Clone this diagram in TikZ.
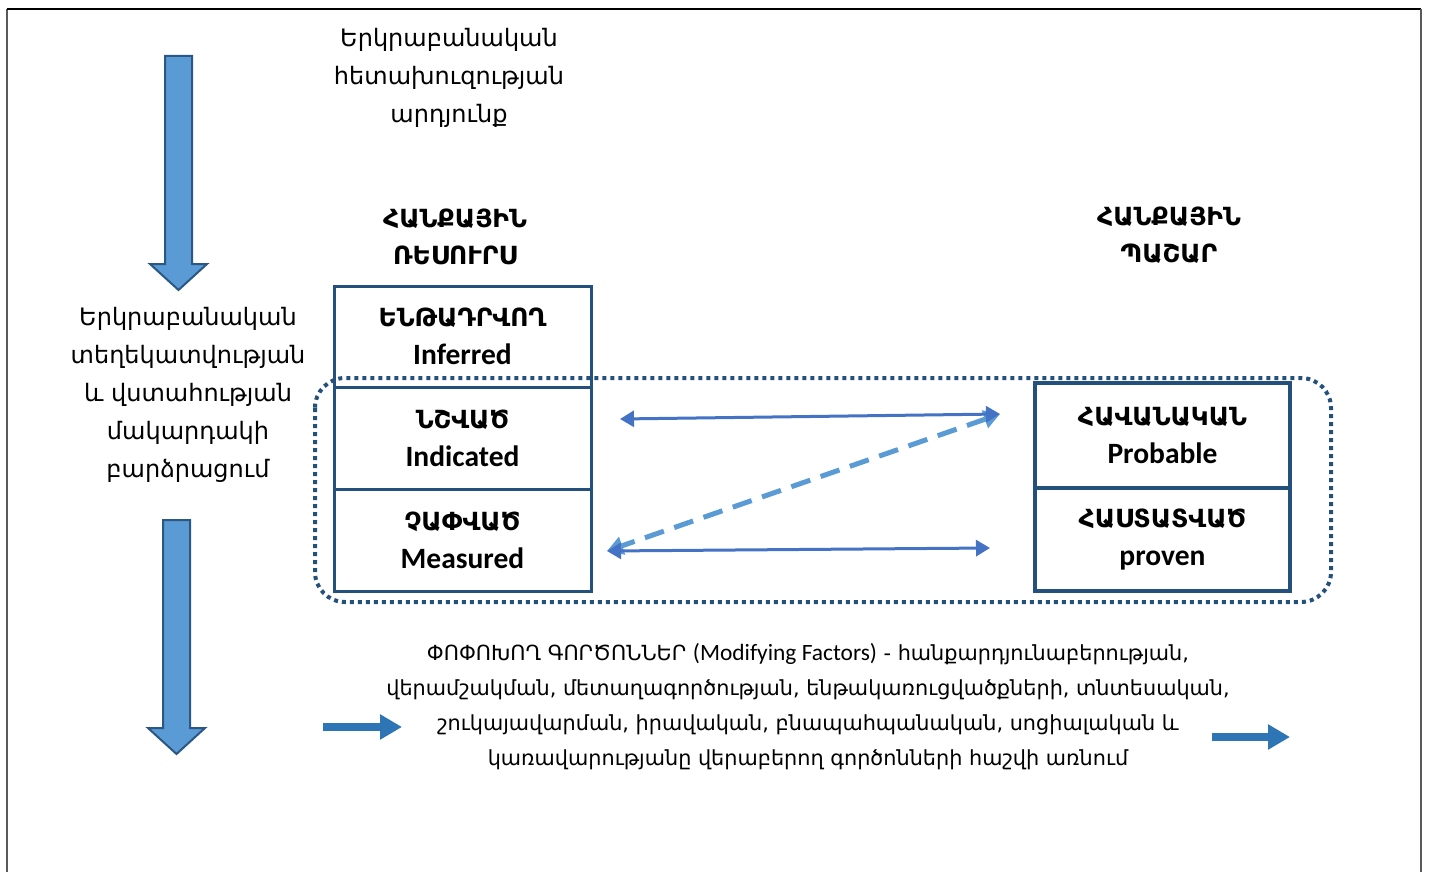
\documentclass[tikz,border=0pt]{standalone}
\usepackage{fontspec}
\setmainfont{DejaVu Sans}
\newfontfamily\lat{Carlito}
\usetikzlibrary{arrows.meta}
\definecolor{frameC}{HTML}{5A5A5A}
\definecolor{boxC}{HTML}{24507C}
\definecolor{arrC}{HTML}{4472C4}
\definecolor{lightC}{HTML}{5B9BD5}
\definecolor{blockC}{HTML}{2E75B6}
\definecolor{blockD}{HTML}{2A5783}
\tikzset{
  txt/.style={align=center, inner sep=0pt, font=\fontsize{24}{38}\selectfont},
  head/.style={align=center, inner sep=0pt, font=\fontsize{25}{37}\selectfont\bfseries},
  cell/.style={draw=boxC, line width=3pt, align=center, inner sep=0pt,
    font=\fontsize{25}{38}\selectfont},
  lnk/.style={arrC, line width=3pt, {Triangle[length=14pt,width=16pt]}-{Triangle[length=14pt,width=16pt]}},
  dlnk/.style={lightC, line width=5pt, dash pattern=on 20pt off 11pt,
    {Triangle[length=16pt,width=18pt]}-{Triangle[length=16pt,width=18pt]}},
  blockarrow/.style={fill=lightC, draw=blockD, line width=2pt},
  smallarrow/.style={blockC, line width=8pt, -{Triangle[length=22pt,width=24pt]}},
}
\newcommand{\latb}[1]{{\lat\bfseries\fontsize{29.5}{38}\selectfont #1}}
\begin{document}
\begin{tikzpicture}[x=1pt,y=-1pt]
\useasboundingbox (0,0) rectangle (1429,872);
% frame
\draw[frameC, line width=2pt] (7,872) -- (7,9);
\draw[black, line width=1.2pt] (7,9) -- (1421,9);
\draw[frameC, line width=2.5pt] (1421,9) -- (1421,872);

% block arrows
\draw[blockarrow] (165,56) -- (192,56) -- (192,264) -- (207,264) -- (178.5,290) -- (150,264) -- (165,264) -- cycle;
\draw[blockarrow] (163,520) -- (190,520) -- (190,728) -- (205,728) -- (176.5,754) -- (148,728) -- (163,728) -- cycle;

% texts
\node[txt] (top) at (449,78) {Երկրաբանական\\հետախուզության\\արդյունք};
\node[txt] (left) at (188,394.5) {Երկրաբանական\\տեղեկատվության\\և վստահության\\մակարդակի\\բարձրացում};
\node[head] (res) at (455,236.5) {ՀԱՆՔԱՅԻՆ\\ՌԵՍՈՒՐՍ};
\node[head] (pas) at (1169,235) {ՀԱՆՔԱՅԻՆ\\ՊԱՇԱՐ};

% cells
\node[cell, minimum width=257pt, minimum height=101pt] (inf) at (462.5,336.5) {{\bfseries ԵՆԹԱԴՐՎՈՂ}\\\latb{Inferred}};
\node[cell, minimum width=257pt, minimum height=102pt] (ind) at (462.5,438) {{\bfseries ՆՇՎԱԾ}\\\latb{Indicated}};
\node[cell, minimum width=257pt, minimum height=102pt] (mea) at (462.5,540) {{\bfseries ՉԱՓՎԱԾ}\\\latb{Measured}};
\node[cell, minimum width=255pt, minimum height=105pt, line width=3.5pt] (prob) at (1162.5,435.5) {{\bfseries ՀԱՎԱՆԱԿԱՆ}\\\latb{Probable}};
\node[cell, minimum width=255pt, minimum height=103pt, line width=3.5pt] (prov) at (1162.5,539.5) {{\bfseries ՀԱՍՏԱՏՎԱԾ}\\\latb{proven}};

% dotted group
\draw[boxC, line width=4pt, dash pattern=on 4pt off 4pt, rounded corners=30pt] (315,378) rectangle (1331,602);

% connectors
\coordinate (a1) at (620,419);
\coordinate (a2) at (1000,414);
\coordinate (b1) at (607,551);
\coordinate (b2) at (990,548);
\draw[dlnk] (a2) -- (b1);
\draw[lnk] (a1) -- (a2);
\draw[lnk] (b1) -- (b2);

% bottom text
\node[txt, font=\fontsize{20.8}{35}\selectfont] (mod) at (808,706.5) {ՓՈՓՈԽՈՂ ԳՈՐԾՈՆՆԵՐ {\lat\fontsize{23.4}{35}\selectfont(Modifying Factors)} - հանքարդյունաբերության,\\վերամշակման, մետաղագործության, ենթակառուցվածքների, տնտեսական,\\շուկայավարման, իրավական, բնապահպանական, սոցիալական և\\կառավարությանը վերաբերող գործոնների հաշվի առնում};

\coordinate (s1) at (323,727);
\coordinate (s2) at (402,727);
\coordinate (t1) at (1212,737);
\coordinate (t2) at (1290,737);
\draw[smallarrow] (s1) -- (s2);
\draw[smallarrow] (t1) -- (t2);
\end{tikzpicture}
\end{document}
